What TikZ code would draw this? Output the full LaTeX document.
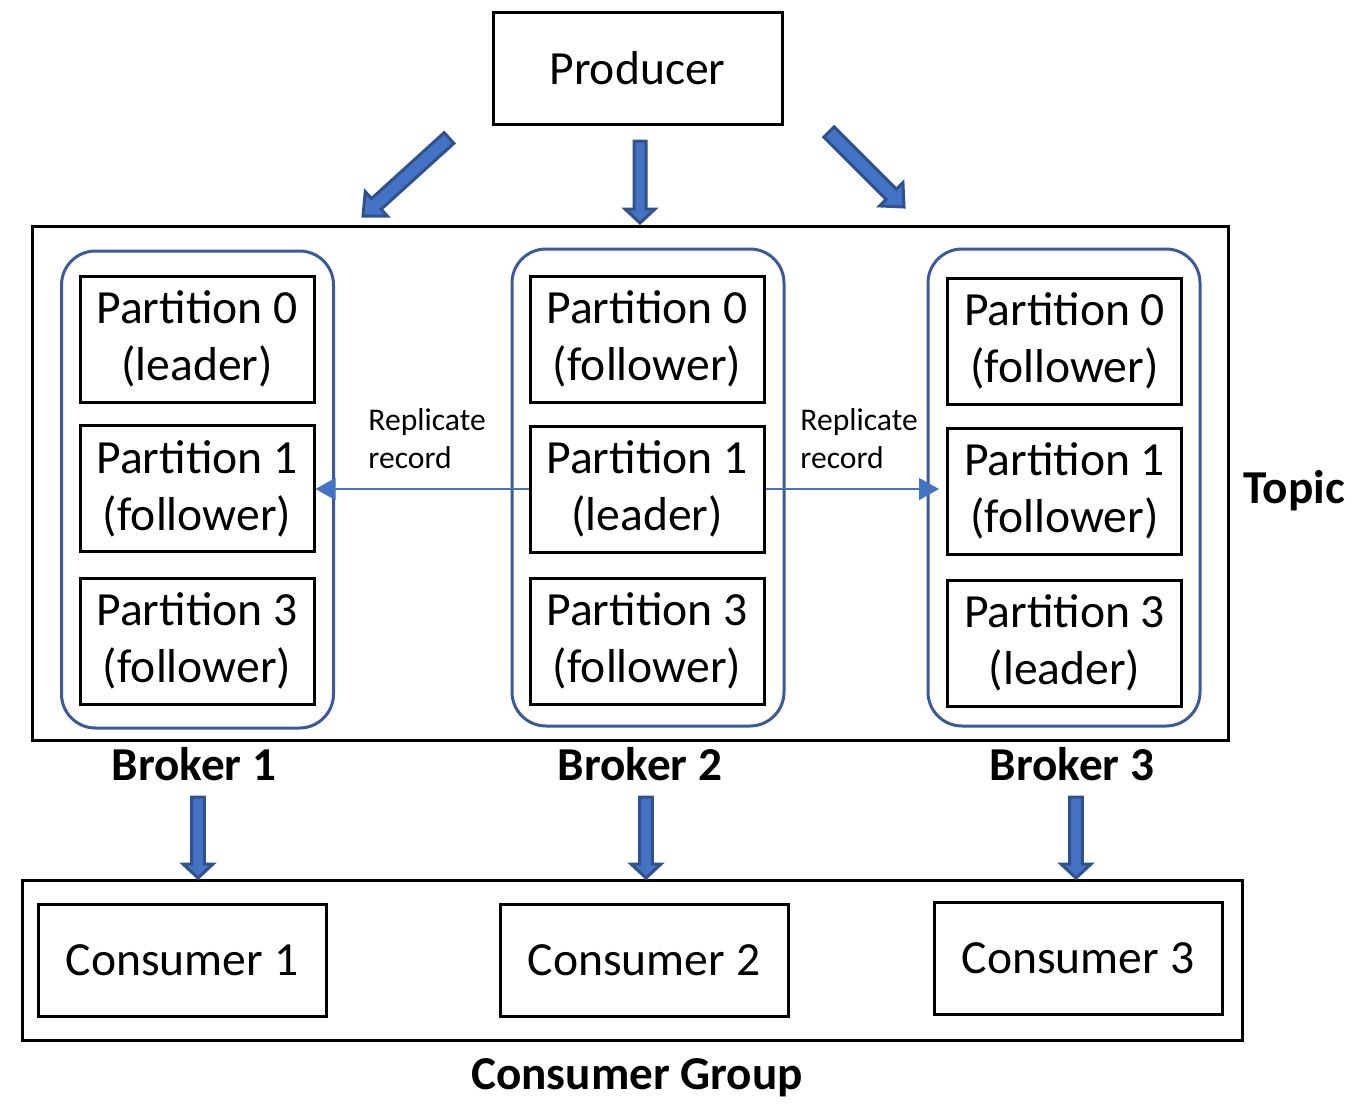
\documentclass[tikz,border=0pt]{standalone}
\usepackage{fontspec}
\setmainfont{Carlito}
\usetikzlibrary{arrows.meta, calc}

\definecolor{arrowblue}{HTML}{4472C4}
\definecolor{edgeblue}{HTML}{2F528F}
\definecolor{brokerblue}{HTML}{3A5A98}

% block arrow: tail, tip, shaft half-width, head half-width, head length
\newcommand{\fatarrow}[5]{%
  \coordinate (fah) at ($(#2)!#5!(#1)$);
  \draw [fatarrow] ($(#1)!#3!90:(#2)$) -- ($(fah)!#3!90:(#2)$) -- ($(fah)!#4!90:(#2)$) -- (#2)
    -- ($(fah)!#4!-90:(#2)$) -- ($(fah)!#3!-90:(#2)$) -- ($(#1)!#3!-90:(#2)$) -- cycle;
}

\begin{document}
\begin{tikzpicture}[x=0.5pt, y=-0.5pt,
  box/.style={draw, line width=1.5pt, inner sep=0pt, align=center, font=\fontsize{23.8}{28.5}\selectfont},
  part/.style={box, minimum width=117pt, minimum height=63pt},
  cons/.style={box, minimum width=144pt, minimum height=56pt},
  broker/.style={draw=brokerblue, line width=1.5pt, rounded corners=17pt, inner sep=0pt,
    minimum width=136pt, minimum height=238.5pt},
  lab/.style={font=\bfseries\fontsize{23.6}{28}\selectfont},
  replabel/.style={align=left, anchor=west, inner sep=0pt, font=\fontsize{15.8}{19}\selectfont},
  reparrow/.style={arrowblue, line width=0.8pt, -{Triangle[length=10pt,width=11pt]}},
  fatarrow/.style={draw=edgeblue, fill=arrowblue, line width=1.5pt, line join=miter}]
\useasboundingbox (0,0) rectangle (1354,1104);

% producer
\node [box, minimum width=144.5pt, minimum height=56pt] (prod) at (637.5,68) {Producer};

% topic with the three brokers
\node [draw, line width=1.5pt, inner sep=0pt, minimum width=598pt, minimum height=257pt] (topic) at (630,483) {};
\node [lab] (topiclab) at (1294,491) {Topic};

\node [broker] (b1) at (197.5,489.5) {};
\node [part] (b1p0) at (197,339)   {Partition 0\\(leader)};
\node [part] (b1p1) at (197,488.5) {Partition 1\\(follower)};
\node [part] (b1p3) at (197,641)   {Partition 3\\(follower)};
\node [lab] (b1lab) at (194,764) {Broker 1};

\node [broker] (b2) at (648,487.5) {};
\node [part] (b2p0) at (647,339) {Partition 0\\(follower)};
\node [part] (b2p1) at (647,489) {Partition 1\\(leader)};
\node [part] (b2p3) at (647,641) {Partition 3\\(follower)};
\node [lab] (b2lab) at (640,764) {Broker 2};

\node [broker] (b3) at (1064,487.5) {};
\node [part] (b3p0) at (1064.5,341) {Partition 0\\(follower)};
\node [part] (b3p1) at (1064.5,491) {Partition 1\\(follower)};
\node [part] (b3p3) at (1064.5,643) {Partition 3\\(leader)};
\node [lab] (b3lab) at (1072,764) {Broker 3};

% replication
\node [replabel] (rep1) at (368,439) {Replicate\\record};
\node [replabel] (rep2) at (800,439) {Replicate\\record};
\draw [reparrow] (b2p1.west) -- (b2p1.west -| b1p1.east);
\draw [reparrow, shorten >=3.5pt] (b2p1.east) -- (b2p1.east -| b3p1.west);

% consumer group
\node [draw, line width=1.5pt, inner sep=0pt, minimum width=610pt, minimum height=80pt] (group) at (632,960) {};
\node [cons] (c1) at (182,960)  {Consumer 1};
\node [cons] (c2) at (644,960)  {Consumer 2};
\node [cons] (c3) at (1078,958) {Consumer 3};
\node [lab] (grouplab) at (637,1078) {Consumer Group};

% block arrows
\coordinate (pt1) at (449,138); \coordinate (ph1) at (363,216);
\coordinate (pt2) at (640,141); \coordinate (ph2) at (640,223);
\coordinate (pt3) at (829,132); \coordinate (ph3) at (904,207);
\coordinate (ct1) at (198,797); \coordinate (ch1) at (198,878);
\coordinate (ct2) at (646,797); \coordinate (ch2) at (646,878);
\coordinate (ct3) at (1076,797); \coordinate (ch3) at (1076,878);
\fatarrow{pt1}{ph1}{3.6pt}{8.25pt}{9pt}
\fatarrow{pt2}{ph2}{3pt}{7.5pt}{7pt}
\fatarrow{pt3}{ph3}{3.6pt}{8.25pt}{9pt}
\fatarrow{ct1}{ch1}{3.2pt}{7.5pt}{7pt}
\fatarrow{ct2}{ch2}{3.2pt}{7.5pt}{7pt}
\fatarrow{ct3}{ch3}{3.2pt}{7.5pt}{7pt}
\end{tikzpicture}
\end{document}
